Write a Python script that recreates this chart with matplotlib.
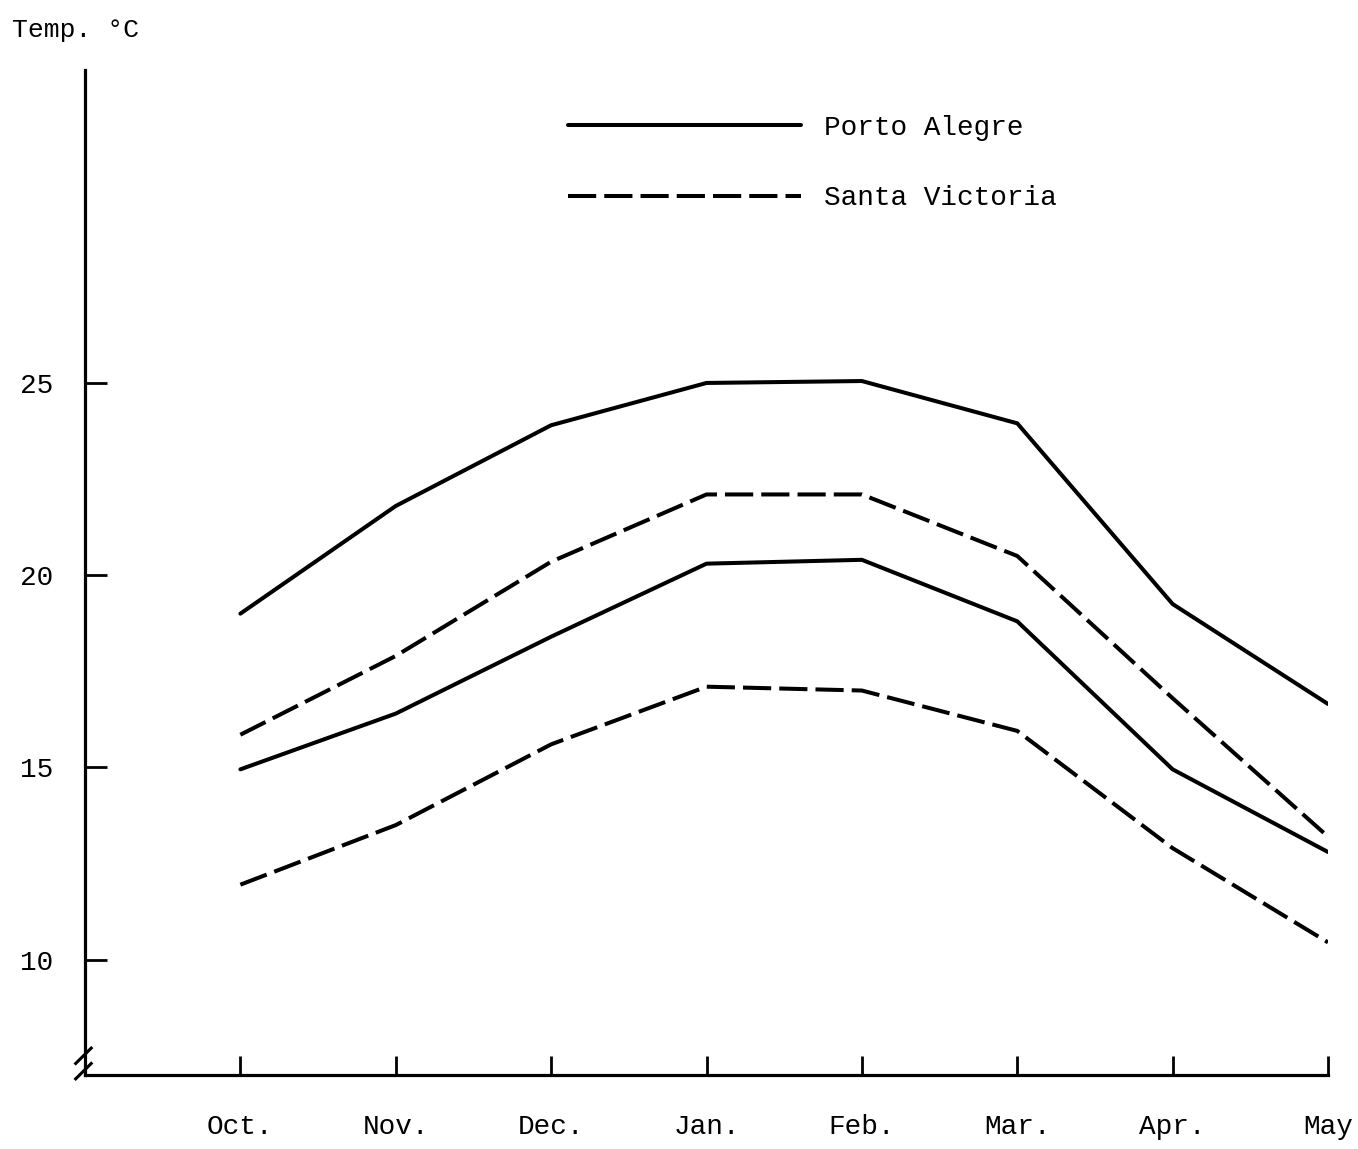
import numpy as np
import matplotlib.pyplot as plt

# months along the x axis
months = ["Oct.", "Nov.", "Dec.", "Jan.", "Feb.", "Mar.", "Apr.", "May"]

# Porto Alegre (solid) - upper and lower curves
porto_high = [19.0, 21.8, 23.9, 25.0, 25.05, 23.95, 19.25, 16.65]
porto_low = [14.95, 16.4, 18.4, 20.3, 20.4, 18.8, 14.95, 12.8]

# Santa Victoria (dashed) - upper and lower curves
santa_high = [15.85, 17.9, 20.35, 22.1, 22.1, 20.5, 16.8, 13.2]
santa_low = [11.95, 13.5, 15.6, 17.1, 17.0, 15.95, 12.9, 10.45]

yticks = [10, 15, 20, 25]

font = "Liberation Mono"
plt.rcParams["font.family"] = [font, "DejaVu Sans Mono"]

fig = plt.figure(figsize=(13.58, 11.49), dpi=100)
ax = fig.add_axes([85/1358, 1-1075/1149, (1328-85)/1358, (1075-70)/1149])

x = np.arange(1, len(months) + 1)
lw = 2.9
dash = (7.0, 2.0)

l1, = ax.plot(x, porto_high, color="black", lw=lw, solid_capstyle="round")
ax.plot(x, porto_low, color="black", lw=lw, solid_capstyle="round")
l2, = ax.plot(x, santa_high, color="black", lw=lw, dashes=dash)
ax.plot(x, santa_low, color="black", lw=lw, dashes=dash)

ax.set_xlim(0, 8)
ax.set_ylim(7, 33.14)
ax.spines["top"].set_visible(False)
ax.spines["right"].set_visible(False)
ax.spines["left"].set_linewidth(2.3)
ax.spines["bottom"].set_linewidth(2.3)

ax.set_xticks(x)
ax.set_xticklabels(months)
ax.set_yticks(yticks)
ax.tick_params(axis="x", direction="in", length=14, width=2, pad=28, labelsize=20)
ax.tick_params(axis="y", direction="in", length=16, width=2, pad=23, labelsize=20)

# axis break mark at the bottom-left corner
for yy in (7.5, 7.1):
    ax.plot([-0.06, 0.04], [yy - 0.2, yy + 0.2], color="black", lw=2.2,
            clip_on=False)

fig.text(12/1358, 1-30/1149, "Temp. °C", fontsize=19, va="center", ha="left")

leg = ax.legend([l1, l2], ["Porto Alegre", "Santa Victoria"],
                loc="upper left", bbox_to_anchor=(568/1358, 1-115/1149),
                bbox_transform=fig.transFigure, frameon=False, fontsize=20,
                handlelength=8.4, handletextpad=0.8, labelspacing=1.6,
                borderpad=0, borderaxespad=0)

fig.savefig("out.png", dpi=100, facecolor="white")
